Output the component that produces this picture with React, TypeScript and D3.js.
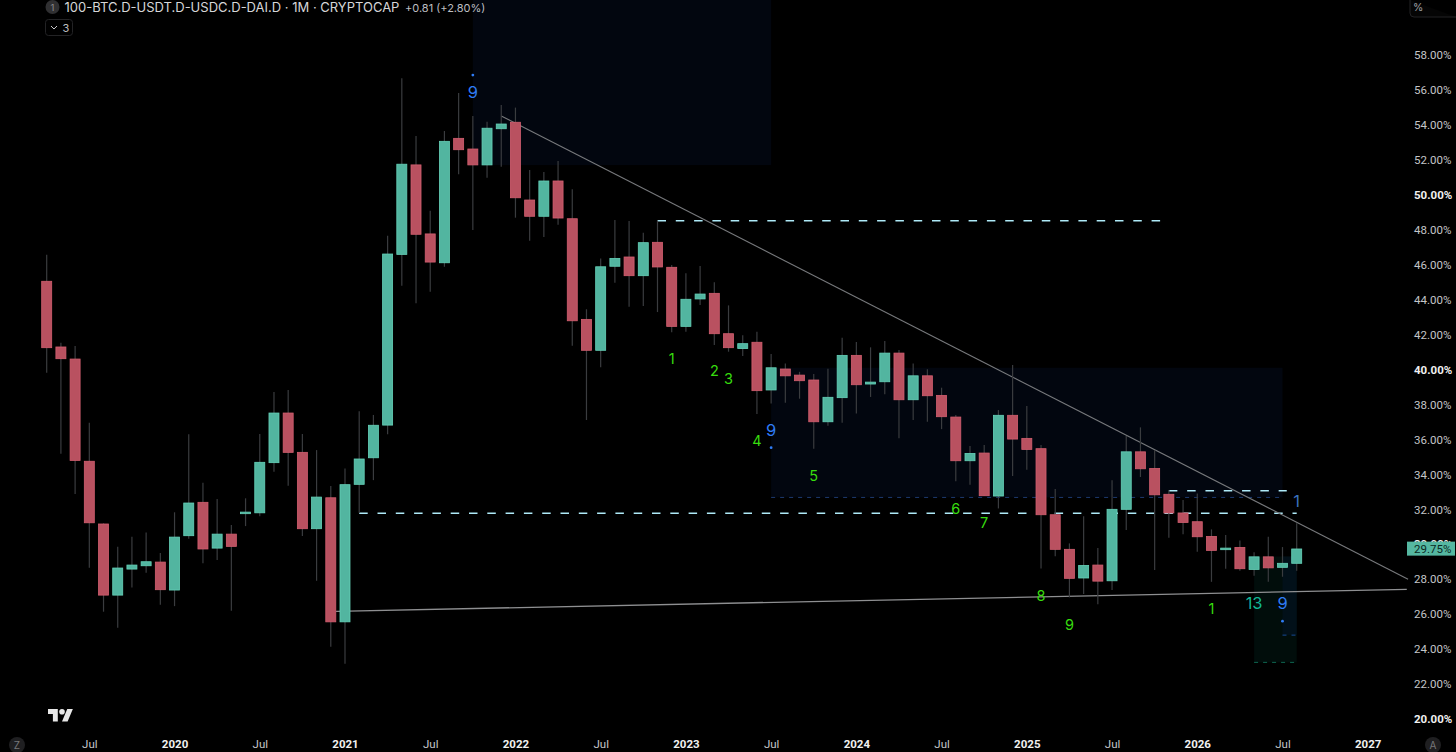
import React, { useEffect, useRef } from 'react'
import * as d3 from 'd3'

const WIDTH = 1456
const HEIGHT = 752

// monthly bars, Apr 2019 -> Aug 2026 (values in %)
const opens = [
  45.05, 41.29, 40.6, 34.75, 31.16, 27.09, 28.58, 28.77, 28.98, 27.38, 30.49, 32.4, 29.78, 30.58, 31.75, 31.8, 34.67,
  37.51, 35.26, 30.89, 32.66, 25.56, 33.43, 34.95, 36.82, 46.59, 51.71, 47.76, 46.11, 53.23, 52.62, 51.71, 53.78, 54.15,
  49.7, 48.77, 50.79, 48.63, 42.87, 41.1, 45.91, 46.44, 45.37, 47.28, 45.85, 42.47, 44.04, 44.36, 42.05, 41.2, 41.56,
  38.83, 40.03, 39.68, 39.4, 37.01, 38.39, 40.81, 39.17, 39.3, 40.94, 38.27, 39.64, 38.52, 37.28, 34.78, 35.22, 32.76,
  37.38, 36.06, 35.47, 31.69, 29.71, 28.07, 28.81, 27.91, 32.0, 35.29, 34.34, 32.86, 31.79, 31.29, 30.45, 29.69, 29.82,
  28.56, 29.28, 28.68, 28.91,
]
const closes = [
  41.25, 40.62, 34.8, 31.23, 27.09, 28.64, 28.81, 29.0, 27.4, 30.41, 32.36, 29.73, 30.58, 29.88, 31.84, 34.69, 37.51,
  35.26, 30.89, 32.7, 25.56, 33.41, 34.88, 36.81, 46.61, 51.75, 47.74, 46.15, 53.06, 52.58, 51.71, 53.81, 54.05, 49.83,
  48.77, 50.79, 48.67, 42.79, 41.1, 45.88, 46.36, 45.37, 47.26, 45.87, 42.47, 44.02, 44.32, 42.05, 41.25, 41.48, 38.79,
  40.1, 39.64, 39.36, 37.01, 38.41, 40.81, 39.13, 39.28, 40.94, 38.27, 39.64, 38.5, 37.3, 34.78, 35.2, 32.78, 37.38,
  36.02, 35.43, 31.69, 29.71, 28.05, 28.79, 27.89, 32.0, 35.29, 34.32, 32.83, 31.79, 31.25, 30.43, 29.65, 29.78, 28.6,
  29.28, 28.65, 28.91, 29.73,
]
const highs = [
  46.57, 41.53, 41.34, 36.95, 31.2, 29.86, 30.43, 30.68, 29.5, 31.83, 36.29, 33.52, 32.59, 31.1, 32.63, 36.31, 38.71,
  38.83, 36.31, 35.39, 33.33, 34.34, 37.61, 37.4, 47.66, 56.67, 53.37, 49.09, 53.65, 55.83, 54.51, 54.18, 55.14, 54.99,
  51.42, 51.3, 51.93, 50.31, 43.45, 46.36, 48.56, 48.5, 47.83, 48.52, 45.98, 45.51, 45.92, 44.99, 43.67, 41.96, 42.16,
  40.89, 40.35, 39.87, 39.74, 40.05, 41.82, 41.57, 41.27, 41.63, 41.12, 40.35, 40.01, 38.96, 37.4, 35.62, 35.68, 37.68,
  40.26, 37.91, 35.68, 33.16, 30.05, 31.61, 29.78, 33.67, 36.19, 36.69, 35.39, 33.1, 32.53, 32.91, 30.85, 30.53, 30.22,
  29.54, 30.43, 29.84, 31.2,
]
const lows = [
  39.82, 35.18, 32.87, 28.65, 26.14, 25.22, 27.53, 28.37, 26.54, 26.46, 30.32, 28.91, 29.1, 26.19, 31.04, 31.61, 34.15,
  33.35, 30.47, 27.91, 24.13, 23.16, 31.8, 33.67, 36.29, 44.8, 43.79, 44.45, 45.88, 51.17, 47.98, 50.98, 51.61, 48.69,
  47.37, 47.58, 48.29, 41.36, 37.11, 40.13, 44.97, 43.59, 43.63, 43.29, 42.13, 42.16, 43.69, 41.4, 41.02, 40.77, 37.45,
  38.06, 38.1, 38.33, 35.47, 36.78, 36.95, 37.49, 38.43, 38.58, 36.06, 37.11, 37.01, 36.59, 33.6, 33.41, 32.78, 32.05,
  33.9, 34.26, 28.62, 29.32, 26.96, 27.15, 26.56, 27.38, 30.81, 33.85, 28.52, 30.37, 30.57, 29.57, 27.85, 28.6, 28.48,
  28.2, 27.85, 28.14, 28.48,
]

const priceTicks = [58, 56, 54, 52, 50, 48, 46, 44, 42, 40, 38, 36, 34, 32, 30, 28, 26, 24, 22, 20]
const boldPrices = [50, 40, 30, 20]

const timeTickBars = [3, 9, 15, 21, 27, 33, 39, 45, 51, 57, 63, 69, 75, 81, 87, 93]
const timeTickLabels = [
  'Jul', '2020', 'Jul', '2021', 'Jul', '2022', 'Jul', '2023', 'Jul', '2024', 'Jul', '2025', 'Jul', '2026', 'Jul', '2027',
]

// [bar, value] pairs
const trendLines = [
  { from: [32, 54.51], to: [95.84, 28.0], color: '#77797c', width: 1.1 },
  { from: [20.37, 26.16], to: [95.75, 27.42], color: '#8e8f91', width: 1.4 },
]
const levelLines = [
  { from: 43, to: 78.45, value: 48.52 },
  { from: 22, to: 88, value: 31.78 },
  { from: 79, to: 87.3, value: 33.06 },
]
const zones = [
  { from: 30, to: 51, top: 61.2, bottom: 51.7, fill: '#02060f', dash: '' },
  { from: 51, to: 87, top: 40.1, bottom: 32.68, fill: '#02060f', dash: '#1d3a70' },
  { from: 85, to: 88, top: 29.3, bottom: 23.24, fill: '#010d0b', dash: '#0e6650' },
  { from: 87, to: 88, top: 29.3, bottom: 24.8, fill: '#021019', dash: '#174a94' },
]
const setupLabels = [
  { bar: 44, value: 40.62, text: '1' },
  { bar: 47, value: 39.9, text: '2' },
  { bar: 48, value: 39.49, text: '3' },
  { bar: 50, value: 35.92, text: '4' },
  { bar: 54, value: 33.94, text: '5' },
  { bar: 64, value: 32.05, text: '6' },
  { bar: 66, value: 31.23, text: '7' },
  { bar: 70, value: 27.07, text: '8' },
  { bar: 72, value: 25.41, text: '9' },
  { bar: 82, value: 26.33, text: '1' },
]
const countLabels = [
  { bar: 30, value: 55.9, text: '9', dot: 56.85, color: '#2f7cf6' },
  { bar: 51, value: 36.55, text: '9', dot: 35.53, color: '#2f7cf6' },
  { bar: 87, value: 26.63, text: '9', dot: 25.6, color: '#2f7cf6' },
  { bar: 85, value: 26.63, text: '13', dot: null, color: '#12b795' },
  { bar: 88, value: 32.5, text: '1', dot: null, color: '#3a70bd' },
]

const lastPrice = 29.75
const headerTitle = '100-BTC.D-USDT.D-USDC.D-DAI.D · 1M · CRYPTOCAP'
const headerChange = '+0.81 (+2.80%)'

const UP = '#52b5a0'
const UP_EDGE = '#66d2b9'
const DOWN = '#b95160'
const DOWN_EDGE = '#d35f70'
const WICK = '#3a3c3f'
const FONT = 'Inter, "Noto Sans", sans-serif'
const AXIS_FONT = 'Roboto, Inter, sans-serif'

const App: React.FC = () => {
  const svgRef = useRef<SVGSVGElement | null>(null)

  useEffect(() => {
    if (!svgRef.current) return
    const svg = d3.select(svgRef.current)
    svg.selectAll('*').remove()

    const x = d3.scaleLinear().domain([0, 88]).range([46.7, 1296.7])
    const y = d3.scaleLinear().domain([58, 20]).range([55, 719])

    // ----------- zones -----------
    const zoneGroup = svg.append('g')
    zoneGroup
      .selectAll('rect')
      .data(zones)
      .enter()
      .append('rect')
      .attr('x', (d) => x(d.from))
      .attr('y', (d) => y(d.top))
      .attr('width', (d) => x(d.to) - x(d.from))
      .attr('height', (d) => y(d.bottom) - y(d.top))
      .attr('fill', (d) => d.fill)
    zoneGroup
      .selectAll('line')
      .data(zones.filter((d) => d.dash))
      .enter()
      .append('line')
      .attr('x1', (d) => x(d.from))
      .attr('x2', (d) => x(d.to))
      .attr('y1', (d) => y(d.bottom))
      .attr('y2', (d) => y(d.bottom))
      .attr('stroke', (d) => d.dash)
      .attr('stroke-width', 1)
      .attr('stroke-dasharray', '4 5')

    // ----------- level lines -----------
    svg
      .append('g')
      .selectAll('line')
      .data(levelLines)
      .enter()
      .append('line')
      .attr('x1', (d) => x(d.from))
      .attr('x2', (d) => x(d.to))
      .attr('y1', (d) => y(d.value))
      .attr('y2', (d) => y(d.value))
      .attr('stroke', '#aeeaf8')
      .attr('stroke-width', 1.5)
      .attr('stroke-dasharray', '8.5 9.8')

    // ----------- trend lines -----------
    svg
      .append('g')
      .selectAll('line')
      .data(trendLines)
      .enter()
      .append('line')
      .attr('x1', (d) => x(d.from[0]))
      .attr('y1', (d) => y(d.from[1]))
      .attr('x2', (d) => x(d.to[0]))
      .attr('y2', (d) => y(d.to[1]))
      .attr('stroke', (d) => d.color)
      .attr('stroke-width', (d) => d.width)

    // ----------- candles -----------
    const candles = svg
      .append('g')
      .selectAll('g')
      .data(opens.map((open, i) => ({ i, open, close: closes[i], high: highs[i], low: lows[i] })))
      .enter()
      .append('g')
    candles
      .append('line')
      .attr('x1', (d) => x(d.i))
      .attr('x2', (d) => x(d.i))
      .attr('y1', (d) => y(d.high))
      .attr('y2', (d) => y(d.low))
      .attr('stroke', WICK)
      .attr('stroke-width', 1.2)
    candles
      .append('rect')
      .attr('x', (d) => x(d.i) - 5)
      .attr('width', 10)
      .attr('y', (d) => y(Math.max(d.open, d.close)))
      .attr('height', (d) => Math.max(Math.abs(y(d.open) - y(d.close)), 1))
      .attr('fill', (d) => (d.close >= d.open ? UP : DOWN))
      .attr('stroke', (d) => (d.close >= d.open ? UP_EDGE : DOWN_EDGE))
      .attr('stroke-width', 0.8)

    // ----------- count labels -----------
    svg
      .append('g')
      .selectAll('text')
      .data(setupLabels)
      .enter()
      .append('text')
      .attr('x', (d) => x(d.bar))
      .attr('y', (d) => y(d.value))
      .attr('dy', '0.36em')
      .attr('text-anchor', 'middle')
      .attr('font-family', FONT)
      .attr('font-size', 14.5)
      .attr('fill', '#37dc0e')
      .text((d) => d.text)
    const counts = svg.append('g')
    counts
      .selectAll('text')
      .data(countLabels)
      .enter()
      .append('text')
      .attr('x', (d) => x(d.bar))
      .attr('y', (d) => y(d.value))
      .attr('dy', '0.36em')
      .attr('text-anchor', 'middle')
      .attr('font-family', FONT)
      .attr('font-size', 16.5)
      .attr('fill', (d) => d.color)
      .text((d) => d.text)
    counts
      .selectAll('circle')
      .data(countLabels.filter((d) => d.dot !== null))
      .enter()
      .append('circle')
      .attr('cx', (d) => x(d.bar))
      .attr('cy', (d) => y(d.dot as number))
      .attr('r', 1.4)
      .attr('fill', (d) => d.color)

    // ----------- axes -----------
    const yAxis = svg
      .append('g')
      .attr('transform', 'translate(1414,0)')
      .call(
        d3
          .axisRight(y)
          .tickValues(priceTicks)
          .tickSize(0)
          .tickPadding(0)
          .tickFormat((d) => `${(d as number).toFixed(2)}%`),
      )
    yAxis.select('.domain').remove()
    yAxis
      .selectAll('text')
      .attr('font-family', AXIS_FONT)
      .attr('font-size', 11.5)
      .attr('fill', (d) => (boldPrices.includes(d as number) ? '#f0f0f0' : '#c4c5c8'))
      .attr('font-weight', (d) => (boldPrices.includes(d as number) ? 700 : 400))

    const xAxis = svg
      .append('g')
      .attr('transform', 'translate(0,740)')
      .call(
        d3
          .axisBottom(x)
          .tickValues(timeTickBars)
          .tickSize(0)
          .tickPadding(0)
          .tickFormat((_, i) => timeTickLabels[i]),
      )
    xAxis.select('.domain').remove()
    xAxis
      .selectAll('text')
      .attr('font-family', AXIS_FONT)
      .attr('font-size', 11.5)
      .attr('fill', (_, i) => (i % 2 ? '#f0f0f0' : '#c4c5c8'))
      .attr('font-weight', (_, i) => (i % 2 ? 700 : 400))

    // ----------- last price tag -----------
    const tag = svg.append('g')
    tag
      .append('rect')
      .attr('x', 1407)
      .attr('y', y(lastPrice) - 7)
      .attr('width', 48)
      .attr('height', 14)
      .attr('fill', '#55b7a1')
    tag
      .append('text')
      .attr('x', 1414)
      .attr('y', y(lastPrice))
      .attr('dy', '0.36em')
      .attr('font-family', AXIS_FONT)
      .attr('font-size', 11.5)
      .attr('fill', '#0b2a24')
      .text(`${lastPrice.toFixed(2)}%`)

    // ----------- header -----------
    const header = svg.append('g').attr('font-family', FONT)
    header.append('circle').attr('cx', 52.5).attr('cy', 7).attr('r', 7).attr('fill', '#303032')
    header
      .append('text')
      .attr('x', 52.5)
      .attr('y', 10.5)
      .attr('text-anchor', 'middle')
      .attr('font-size', 9.5)
      .attr('fill', '#8a8a8c')
      .text('1')
    header
      .append('text')
      .attr('x', 64.5)
      .attr('y', 11.5)
      .attr('font-size', 13)
      .attr('fill', '#d6d6d8')
      .text(headerTitle)
    header
      .append('text')
      .attr('x', 405)
      .attr('y', 11.5)
      .attr('font-size', 11)
      .attr('fill', '#bdbec1')
      .text(headerChange)
    header
      .append('rect')
      .attr('x', 45.5)
      .attr('y', 19.5)
      .attr('width', 27)
      .attr('height', 16)
      .attr('rx', 3)
      .attr('fill', 'none')
      .attr('stroke', '#232325')
    header
      .append('path')
      .attr('d', d3.line()([[51, 26], [54, 29], [57, 26]]) as string)
      .attr('fill', 'none')
      .attr('stroke', '#c9c9cb')
    header.append('text').attr('x', 62.5).attr('y', 32).attr('font-size', 11).attr('fill', '#bdbec1').text('3')

    // ----------- corner buttons -----------
    const buttons = svg.append('g').attr('font-family', FONT)
    buttons
      .append('path')
      .attr('d', 'M1456,17H1414a4,4 0 0 1 -4,-4V0')
      .attr('fill', '#050505')
      .attr('stroke', '#232325')
    buttons.append('text').attr('x', 1413).attr('y', 11).attr('font-size', 10.5).attr('fill', '#a0a1a4').text('%')
    const corner = [
      { cx: 17, label: 'Z' },
      { cx: 1433, label: 'A' },
    ]
    buttons
      .selectAll('circle')
      .data(corner)
      .enter()
      .append('circle')
      .attr('cx', (d) => d.cx)
      .attr('cy', 745)
      .attr('r', 8)
      .attr('fill', '#1f1f21')
    buttons
      .selectAll('text.corner')
      .data(corner)
      .enter()
      .append('text')
      .attr('class', 'corner')
      .attr('x', (d) => d.cx)
      .attr('y', 749)
      .attr('text-anchor', 'middle')
      .attr('font-size', 10)
      .attr('fill', '#77787a')
      .text((d) => d.label)

    // ----------- logo -----------
    const logo = svg.append('g').attr('transform', 'translate(48,706.2) scale(0.7)').attr('fill', '#e8e8e8')
    logo.append('path').attr('d', 'M14 22H7V11H0V4h14v18zM28 22h-8l7.5-18h8L28 22z')
    logo.append('circle').attr('cx', 20).attr('cy', 8).attr('r', 4)
  }, [])

  return (
    <div style={{ position: 'absolute', left: 0, top: 0, width: WIDTH, height: HEIGHT, background: '#000', overflow: 'hidden' }}>
      <svg ref={svgRef} width={WIDTH} height={HEIGHT} style={{ display: 'block' }}></svg>
    </div>
  )
}

export default App
